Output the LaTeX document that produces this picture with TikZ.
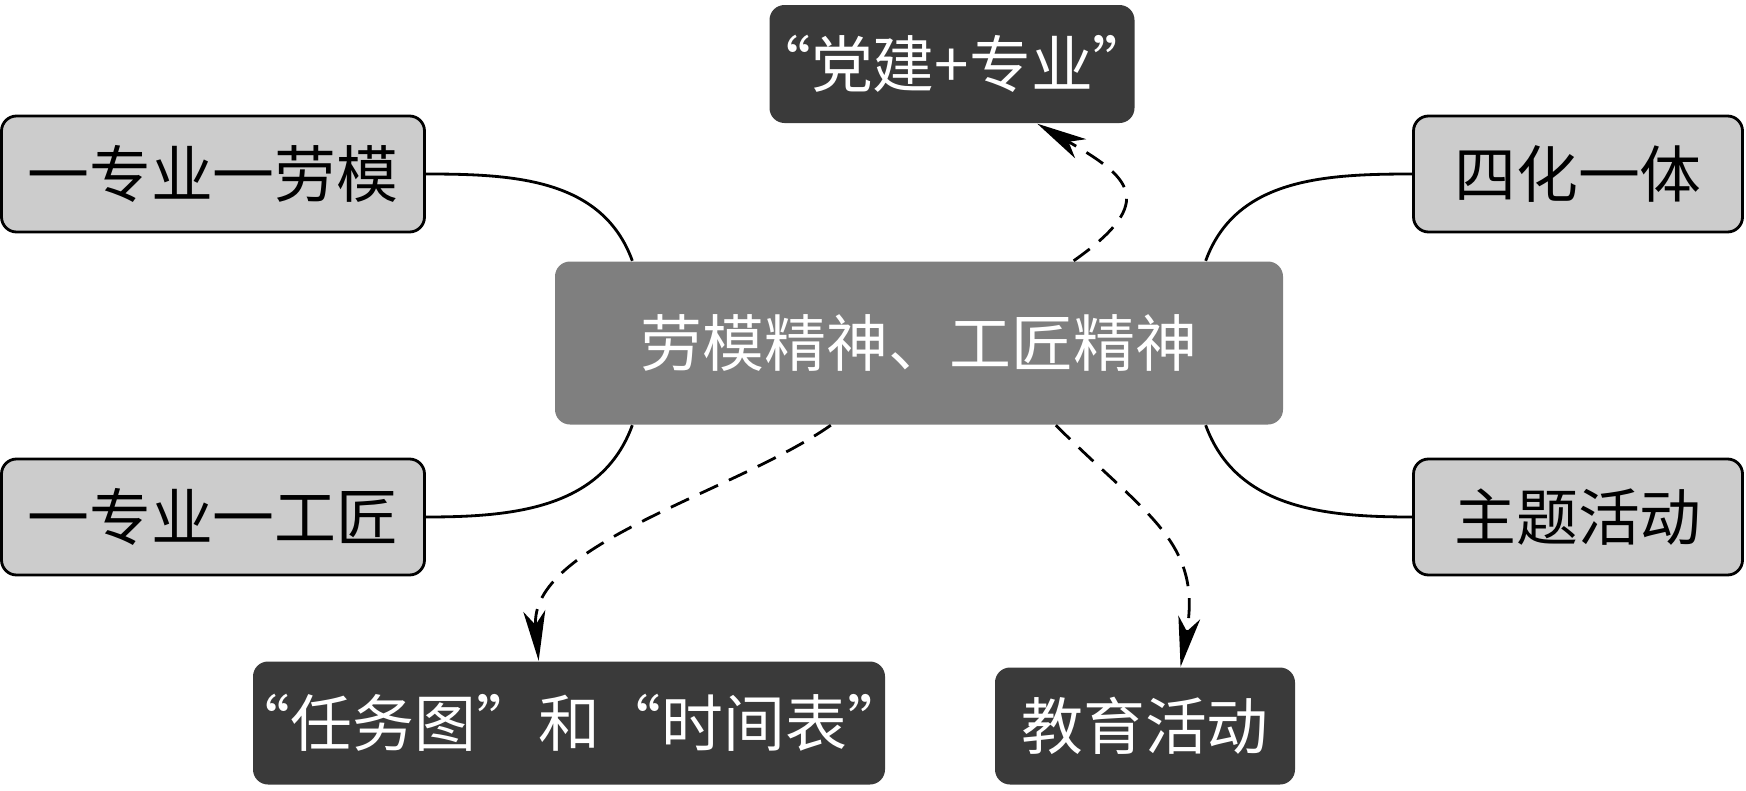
\documentclass[tikz,border=0pt]{standalone}
\usepackage{fontspec}
\newfontfamily\cjk{Noto Sans CJK SC}
\usetikzlibrary{arrows.meta}
\definecolor{lightbox}{HTML}{CCCCCC}
\definecolor{midbox}{HTML}{7F7F7F}
\definecolor{darkbox}{HTML}{3A3A3A}
\begin{document}
\begin{tikzpicture}[
	every node/.style={font=\cjk\fontsize{17.6}{20}\selectfont, rounded corners=0.15cm, inner sep=0pt},
	side/.style={draw, thick, fill=lightbox, minimum height=1.16cm},
	dark/.style={fill=darkbox, text=white},
	link/.style={thick, dashed, dash pattern=on 0.2cm off 0.12cm, -{Stealth[length=0.5cm, width=0.22cm, inset=0.14cm]}}]
		\useasboundingbox (0,0) rectangle (17.46,7.9);
		\node (c) at (9.19,4.47) [fill=midbox, text=white, minimum width=7.28cm, minimum height=1.63cm] {劳模精神、工匠精神};
		\node (pj) at (9.52,7.26) [dark, minimum width=3.65cm, minimum height=1.18cm] {\kern-0.4em“党建+专业”\kern-0.4em};
		\node (lt) at (2.13,6.16) [side, minimum width=4.23cm] {一专业一劳模};
		\node (lb) at (2.13,2.73) [side, minimum width=4.23cm] {一专业一工匠};
		\node (rt) at (15.78,6.16) [side, minimum width=3.29cm] {四化一体};
		\node (rb) at (15.78,2.73) [side, minimum width=3.29cm] {主题活动};
		\node (tt) at (5.69,0.67) [dark, minimum width=6.32cm, minimum height=1.23cm] {\kern-0.4em“任务图”和“时间表”\kern-0.4em};
		\node (ej) at (11.45,0.64) [dark, minimum width=3.0cm, minimum height=1.17cm] {教育活动};
		\draw [thick] (lt.east) to [out=0, in=110] (c.164);
		\draw [thick] (lb.east) to [out=0, in=-110] (c.196);
		\draw [thick] (rt.west) to [out=180, in=70] (c.16);
		\draw [thick] (rb.west) to [out=180, in=-70] (c.-16);
		\draw [link] (c.28) to [out=35, in=-30, looseness=1.9] (pj.-35);
		\draw [link] (c.223) to [out=215, in=95, looseness=0.8] (tt.116);
		\draw [link] (c.-31) to [out=-45, in=80, looseness=1.2] (ej.59);
	\end{tikzpicture}
\end{document}
